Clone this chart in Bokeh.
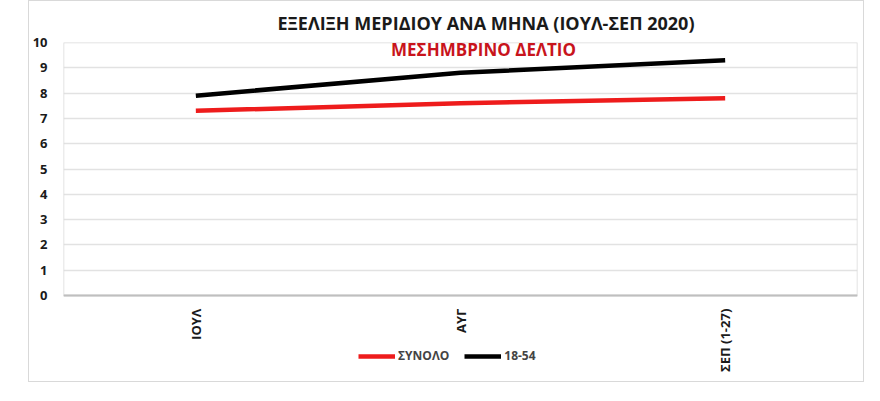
import math

from bokeh.core.properties import value
from bokeh.embed import file_html
from bokeh.models import ColumnDataSource, Label, Range1d, Span, Title
from bokeh.plotting import figure
from bokeh.resources import INLINE

# data
months = ["ΙΟΥΛ", "ΑΥΓ", "ΣΕΠ (1-27)"]
total = [7.3, 7.6, 7.8]
age_18_54 = [7.9, 8.8, 9.3]
y_ticks = list(range(0, 11))

title_text = "ΕΞΕΛΙΞΗ ΜΕΡΙΔΙΟΥ ΑΝΑ ΜΗΝΑ (ΙΟΥΛ-ΣΕΠ 2020)"
subtitle_text = "ΜΕΣΗΜΒΡΙΝΟ ΔΕΛΤΙΟ"

FONT = "Open Sans"
RED = "#ee1c1c"
GRID = "#e2e2e2"

# the frame runs on below zero so the month labels and the legend fit inside it
p = figure(x_range=months, y_range=Range1d(-3.24, 10), width=836, height=382,
           output_backend="svg", toolbar_location=None,
           min_border_left=34, min_border_right=8,
           min_border_top=37, min_border_bottom=6)
p.margin = (0, 0, 0, 28)
p.styles = {"border": "1px solid #d9d9d9", "box-sizing": "border-box"}
p.outline_line_color = None
p.xaxis.visible = False
p.xgrid.grid_line_color = None
p.ygrid.grid_line_color = GRID
p.ygrid.grid_line_width = 1.5
p.ygrid.ticker = y_ticks

# plot area box
p.quad(left=[0], right=[3], bottom=[0], top=[10], fill_color=None,
       line_color="#d9d9d9", line_width=1.5)
p.add_layout(Span(location=0, dimension="width", line_color="#bfbfbf", line_width=2))

p.line(months, total, line_color=RED, line_width=4.5, legend_label="ΣΥΝΟΛΟ")
p.line(months, age_18_54, line_color="black", line_width=4.5, legend_label="18-54")

# month labels, rotated under the zero line
labels = ColumnDataSource(dict(x=months, y=[-0.52] * len(months), text=months))
p.text(x="x", y="y", text="text", source=labels, angle=math.pi / 2,
       text_align="right", text_baseline="middle", text_font=value(FONT),
       text_font_style="bold", text_font_size="13px", text_color="#1a1a1a")

p.yaxis.ticker = y_ticks
p.yaxis.axis_line_color = None
p.yaxis.major_tick_line_color = None
p.yaxis.minor_tick_line_color = None
p.yaxis.major_label_standoff = 10
p.yaxis.major_label_text_font = FONT
p.yaxis.major_label_text_font_style = "bold"
p.yaxis.major_label_text_font_size = "13px"
p.yaxis.major_label_text_color = "#1a1a1a"

p.add_layout(Title(text=title_text, align="left", offset=214, standoff=15,
                   text_font=FONT, text_font_style="bold", text_font_size="18px",
                   text_color="#1a1a1a"), "above")
p.add_layout(Label(x=1.587, y=9.73, text=subtitle_text, text_align="center",
                   text_baseline="middle", text_font=FONT, text_font_style="bold",
                   text_font_size="17px", text_color="#c8141c"))

p.legend.orientation = "horizontal"
p.legend.location = (295, 13)
p.legend.background_fill_alpha = 0
p.legend.border_line_color = None
p.legend.label_text_font = FONT
p.legend.label_text_font_style = "bold"
p.legend.label_text_font_size = "12px"
p.legend.glyph_width = 37
p.legend.glyph_height = 12
p.legend.label_standoff = 3
p.legend.spacing = 15
p.legend.padding = 0
p.legend.margin = 0

open("out.html", "w").write(file_html(p, INLINE))
